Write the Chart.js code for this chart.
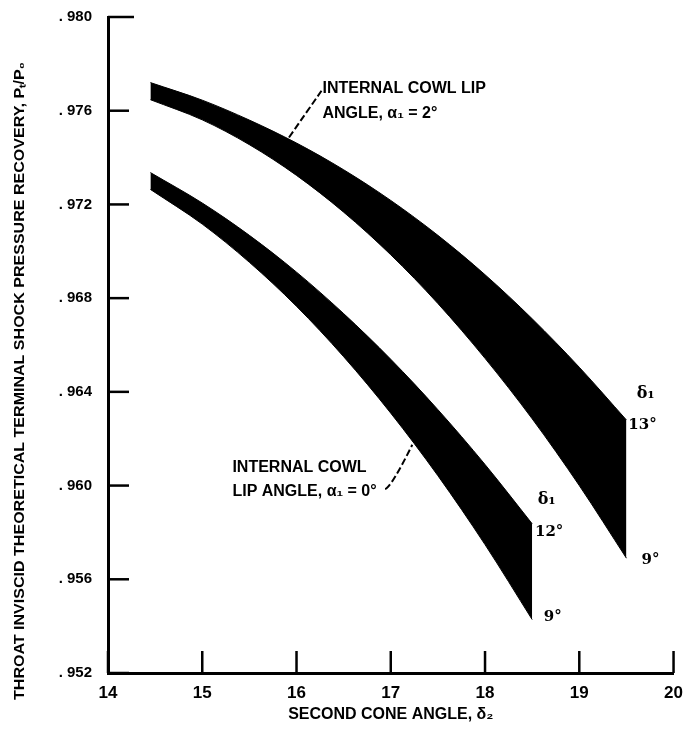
<!DOCTYPE html>
<html>
<head>
<meta charset="utf-8">
<script src="https://cdn.jsdelivr.net/npm/chart.js@4/dist/chart.umd.min.js"></script>
<style>
  html, body { margin: 0; padding: 0; background: #fff; }
  #wrap { width: 685px; height: 733px; position: relative; }
</style>
</head>
<body>
<div id="wrap"><canvas id="c" width="685" height="733"></canvas></div>
<script>
// Second cone angle (deg) stations for each band
const secondConeAngleHigh = [14.45, 15, 15.5, 16, 16.5, 17, 17.5, 18, 18.5, 19, 19.5];
const secondConeAngleLow  = [14.45, 15, 15.5, 16, 16.5, 17, 17.5, 18, 18.5];

// Internal cowl lip angle 2 deg: recovery for delta1 = 13 deg (upper edge) and 9 deg (lower edge)
const cowl2Delta13 = [0.97720, 0.97645, 0.97560, 0.97462, 0.97348, 0.97217, 0.97068, 0.96900, 0.96712, 0.96505, 0.96280];
const cowl2Delta9  = [0.97647, 0.97561, 0.97455, 0.97324, 0.97167, 0.96985, 0.96777, 0.96543, 0.96285, 0.96000, 0.95690];

// Internal cowl lip angle 0 deg: recovery for delta1 = 12 deg (upper edge) and 9 deg (lower edge)
const cowl0Delta12 = [0.97336, 0.97206, 0.97068, 0.96911, 0.96734, 0.96539, 0.96324, 0.96090, 0.95837];
const cowl0Delta9  = [0.97264, 0.97116, 0.96953, 0.96765, 0.96550, 0.96309, 0.96042, 0.95748, 0.95428];

// Axis ticks
const xTickValues = [14, 15, 16, 17, 18, 19, 20];
const yTickValues = [0.952, 0.956, 0.960, 0.964, 0.968, 0.972, 0.976, 0.980];

const pts = (xs, ys) => xs.map((x, i) => ({ x: x, y: ys[i] }));

const SANS = "'Liberation Sans', 'DejaVu Sans', sans-serif";
const NARROW = "'Liberation Sans Narrow', 'Liberation Sans', sans-serif";
const SERIF = "'DejaVu Serif', 'Liberation Serif', serif";

// Callout text, anchored in data units
const callouts = [
  { x: 16.275, y: 0.97677, text: 'INTERNAL COWL LIP', font: 'bold 16px ' + SANS },
  { x: 16.275, y: 0.97570, text: 'ANGLE, \u03b1\u2081 = 2\u00b0', font: 'bold 16px ' + SANS },
  { x: 15.32, y: 0.96060, text: 'INTERNAL COWL', font: 'bold 16px ' + SANS },
  { x: 15.32, y: 0.95957, text: 'LIP ANGLE, \u03b1\u2081 = 0\u00b0', font: 'bold 16px ' + SANS },
  { x: 19.61, y: 0.96375, text: '\u03b4\u2081', font: 'bold 16px ' + SERIF },
  { x: 19.52, y: 0.96240, text: '13\u00b0', font: 'bold 15px ' + SERIF },
  { x: 19.661, y: 0.95664, text: '9\u00b0', font: 'bold 15px ' + SERIF },
  { x: 18.56, y: 0.95920, text: '\u03b4\u2081', font: 'bold 16px ' + SERIF },
  { x: 18.53, y: 0.95785, text: '12\u00b0', font: 'bold 15px ' + SERIF },
  { x: 18.624, y: 0.95421, text: '9\u00b0', font: 'bold 15px ' + SERIF }
];
// Leader lines from the labels to the bands (data units)
const leaders = [
  [[16.265, 0.97685], [16.10, 0.97590], [15.905, 0.97477]],
  [[16.94, 0.95985], [17.00, 0.95990], [17.228, 0.96174]]
];

const axisDecor = {
  id: 'axisDecor',
  afterDatasetsDraw(chart) {
    const ctx = chart.ctx;
    const xs = chart.scales.x, ys = chart.scales.y;
    const a = chart.chartArea;
    ctx.save();
    ctx.strokeStyle = '#000';
    ctx.lineWidth = 2.5;
    // inward tick marks
    xTickValues.forEach(v => {
      const px = xs.getPixelForValue(v);
      ctx.beginPath(); ctx.moveTo(px, a.bottom); ctx.lineTo(px, a.bottom - 22); ctx.stroke();
    });
    yTickValues.forEach(v => {
      const py = ys.getPixelForValue(v);
      const len = v >= 0.98 ? 26 : 21;
      ctx.beginPath(); ctx.moveTo(a.left, py); ctx.lineTo(a.left + len, py); ctx.stroke();
    });
    // leader lines
    ctx.lineWidth = 2;
    ctx.setLineDash([7, 3]);
    leaders.forEach(l => {
      ctx.beginPath();
      const p0 = l[0], p1 = l[1], p2 = l[2];
      ctx.moveTo(xs.getPixelForValue(p0[0]), ys.getPixelForValue(p0[1]));
      ctx.quadraticCurveTo(xs.getPixelForValue(p1[0]), ys.getPixelForValue(p1[1]),
                           xs.getPixelForValue(p2[0]), ys.getPixelForValue(p2[1]));
      ctx.stroke();
    });
    ctx.setLineDash([]);
    // callout text
    ctx.fillStyle = '#000';
    ctx.textBaseline = 'alphabetic';
    ctx.textAlign = 'left';
    callouts.forEach(c => {
      ctx.font = c.font;
      ctx.fillText(c.text, xs.getPixelForValue(c.x), ys.getPixelForValue(c.y));
    });
    // vertical axis title
    const title = 'THROAT INVISCID THEORETICAL TERMINAL SHOCK PRESSURE RECOVERY, P\u209c/P\u2080';
    ctx.font = 'bold 14px ' + NARROW;
    const w = ctx.measureText(title).width;
    const target = 638;
    ctx.translate(24, 381);
    ctx.rotate(-Math.PI / 2);
    ctx.scale(target / w, 1);
    ctx.textAlign = 'center';
    ctx.fillText(title, 0, 0);
    ctx.restore();
  }
};

new Chart(document.getElementById('c'), {
  type: 'line',
  data: {
    datasets: [
      { label: 'cowl 2 deg, delta1 13', data: pts(secondConeAngleHigh, cowl2Delta13), fill: '+1' },
      { label: 'cowl 2 deg, delta1 9', data: pts(secondConeAngleHigh, cowl2Delta9), fill: false },
      { label: 'cowl 0 deg, delta1 12', data: pts(secondConeAngleLow, cowl0Delta12), fill: '+1' },
      { label: 'cowl 0 deg, delta1 9', data: pts(secondConeAngleLow, cowl0Delta9), fill: false }
    ].map(d => Object.assign(d, {
      borderColor: '#000', backgroundColor: '#000', borderWidth: 1,
      pointRadius: 0, cubicInterpolationMode: 'monotone'
    }))
  },
  options: {
    responsive: false,
    animation: false,
    devicePixelRatio: 1,
    layout: { padding: { top: 14, right: 10, left: 0, bottom: 0 } },
    plugins: { legend: { display: false }, tooltip: { enabled: false } },
    scales: {
      x: {
        type: 'linear', min: 14, max: 20,
        afterBuildTicks: s => { s.ticks = xTickValues.map(v => ({ value: v })); },
        afterFit: s => { s.height = 60; },
        grid: { display: false },
        border: { display: true, color: '#000', width: 3 },
        ticks: { color: '#000', padding: 2, font: { family: NARROW, weight: 'bold', size: 17 } },
        title: { display: true, text: 'SECOND CONE ANGLE, \u03b4\u2082', color: '#000', padding: { top: 0, bottom: 9 },
                 font: { family: SANS, weight: 'bold', size: 16 } }
      },
      y: {
        type: 'linear', min: 0.952, max: 0.980,
        afterBuildTicks: s => { s.ticks = yTickValues.map(v => ({ value: v })); },
        afterFit: s => { s.width = 108; },
        grid: { display: false },
        border: { display: true, color: '#000', width: 3 },
        ticks: { color: '#000', padding: 8, font: { family: NARROW, weight: 'bold', size: 15 },
                 callback: v => '. ' + Math.round(v * 1000) }
      }
    }
  },
  plugins: [axisDecor]
});
</script>
</body>
</html>
